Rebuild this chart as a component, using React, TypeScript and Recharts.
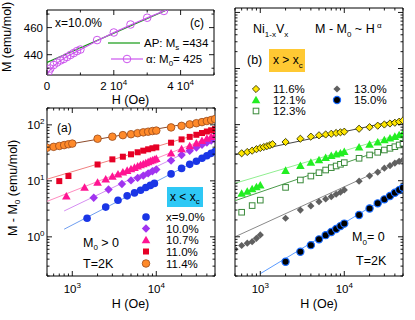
import React from "react";
import { ScatterChart, Scatter, XAxis, YAxis } from "recharts";

const FONT = "'Liberation Sans', Arial, Helvetica, sans-serif";

// ---------- panel (c): M(H), x = 10.0 %
const cH = [500, 1000, 2000, 3000, 4000, 5000, 6000, 7000, 8000, 9000, 10000, 15000, 20000, 25000, 30000, 35000];
const cM = [427.6, 429.8, 432.4, 434.2, 435.7, 436.8, 438.3, 439.8, 441.2, 442.7, 443.8, 450.8, 456.4, 462.3, 467.3, 472.3];
const cFitH = [0, 250, 500, 1000, 2000, 4000, 6000, 8000, 10000, 15000, 20000, 25000, 30000, 35000, 40000];
const cFitM = [425, 426.2, 427.2, 429.0, 431.7, 435.6, 438.6, 441.2, 443.7, 450.3, 456.3, 461.9, 467.2, 472.3, 477.2];
const cApH = [0, 40000];
const cApM = [434.3, 477.5];
const cTicksX = [0, 10000, 20000, 30000, 40000, 50000];
const cTicksY = [430, 440, 450, 460, 470];

// ---------- panel (a): M - M0, M0 > 0
const a90H = [1500, 2500, 3500, 4500, 5500, 6500, 7500, 8500, 9500, 15000, 20000, 25000, 30000, 35000, 40000, 45000, 50000];
const a90M = [2.15, 3.4, 4.5, 5.4, 6.1, 6.8, 7.6, 8.3, 9.0, 13.3, 16.7, 19.7, 22.4, 25.3, 28, 31, 33.5];
const a90FitH = [800, 50000];
const a90FitM = [1.37, 34];

const a100H = [1800, 2700, 3900, 5000, 6000, 7000, 8000, 9000, 10000, 15000, 20000, 25000, 30000, 35000, 40000, 45000, 50000];
const a100M = [5.0, 7.0, 8.8, 10.2, 11.3, 12.4, 13.6, 14.8, 16.0, 23, 29, 34.5, 39.5, 44, 48.5, 52.5, 56];
const a100FitH = [800, 50000];
const a100FitM = [2.9, 57];

const a107H = [850, 1400, 2000, 2500, 3000, 3500, 4000, 4500, 5000, 5500, 6000, 6500, 7000, 7500, 8000, 8500, 9000, 9500, 10000, 15000, 20000, 25000, 30000, 35000, 40000, 45000, 50000];
const a107M = [5.3, 7.6, 9.3, 10.7, 11.9, 13.1, 14.2, 15.2, 16.3, 17.2, 18.2, 19.1, 20.0, 20.8, 21.7, 22.5, 23.3, 24.0, 24.8, 31, 37, 42, 47, 52, 57, 61, 65];
const a107FitH = [500, 50000];
const a107FitM = [4.3, 65];

const a110H = [700, 900, 2000, 3000, 4000, 5000, 6000, 7000, 8000, 9000, 10000, 15000, 20000, 25000, 30000, 35000, 40000, 45000, 50000];
const a110M = [9.9, 12.2, 19.6, 24.2, 27.0, 29.8, 32.4, 34.6, 36.6, 38.2, 39.6, 48, 55, 61, 66.5, 71.5, 76, 80, 84];
const a110FitH = [500, 50000];
const a110FitM = [10.7, 84];

const a114H = [500, 600, 700, 800, 900, 1000, 2000, 3000, 4000, 5000, 6000, 7000, 8000, 9000, 10000, 15000, 20000, 25000, 30000, 35000, 40000, 45000, 50000];
const a114M = [39, 40.5, 42, 43.5, 45, 46.3, 56.5, 61.5, 65.5, 68, 71, 73.5, 75.5, 77.5, 79, 90, 96, 102, 107, 112, 117, 122, 127];
const a114FitH = [500, 50000];
const a114FitM = [38.5, 128];

const aLabels = ["x=9.0%", "10.0%", "10.7%", "11.0%", "11.4%"];

// ---------- panel (b): M - M0, M0 = 0
const b116H = [600, 700, 800, 900, 1000, 1100, 1200, 1300, 1400, 2000, 3000, 4000, 5000, 6000, 7000, 8000, 9000, 10000, 15000, 20000, 25000, 30000, 35000, 40000, 45000, 50000];
const b116M = [30.8, 32.5, 34.3, 36.5, 38.3, 39.9, 41.3, 43, 44.8, 49, 56, 61, 64.5, 66.7, 68.7, 71, 73, 74.8, 84.4, 90, 95.7, 100.5, 104.7, 108, 112.7, 118.6];
const b116FitH = [500, 50000];
const b116FitM = [29, 125];

const b121H = [600, 700, 800, 900, 1000, 2000, 3000, 4000, 5000, 6000, 7000, 8000, 9000, 10000, 15000, 20000, 25000, 30000, 35000, 40000, 45000, 50000];
const b121M = [5.9, 6.4, 7.1, 7.7, 8.3, 15.1, 18.5, 21, 23.4, 25.7, 27.9, 29.6, 30.8, 32.9, 39.5, 44, 48.5, 53, 57, 61, 65, 69];
const b121FitH = [500, 50000];
const b121FitM = [9.0, 70];

const b123H = [600, 800, 1000, 2000, 3000, 4000, 5000, 6000, 7000, 8000, 9000, 10000, 15000, 20000, 25000, 30000, 35000, 40000, 45000, 50000];
const b123M = [2.74, 3.6, 4.5, 7.6, 10.3, 12.1, 13.9, 15.5, 17.1, 18.3, 19.6, 21, 25.1, 28.8, 32.1, 35.3, 37.8, 40.4, 43.4, 46.5];
const b123FitH = [500, 50000];
const b123FitM = [4.4, 47];

const b130H = [500, 600, 700, 800, 900, 1000, 2000, 3000, 4000, 5000, 6000, 7000, 8000, 9000, 10000, 15000, 20000, 25000, 30000, 35000, 40000, 45000, 50000];
const b130M = [0.6, 0.7, 0.77, 0.82, 0.94, 1.08, 2.14, 3.0, 3.55, 4.23, 4.72, 5.19, 5.73, 6.22, 6.84, 9.8, 12.2, 14.2, 16.7, 18.5, 20.5, 22.2, 23.4];
const b130FitH = [500, 50000];
const b130FitM = [1.0, 23.5];

const b150H = [2000, 3000, 4000, 5000, 6000, 7000, 8000, 9000, 10000, 15000, 20000, 25000, 30000, 35000, 40000, 45000, 50000];
const b150M = [0.36, 0.54, 0.71, 0.9, 1.07, 1.22, 1.38, 1.55, 1.72, 2.45, 3.2, 3.95, 4.65, 5.35, 6.1, 6.8, 7.5];
const b150FitH = [1000, 50000];
const b150FitM = [0.22, 7.6];

const bLabels = ["11.6%", "12.1%", "12.3%", "13.0%", "15.0%"];

// ---------- log axis ticks
const logTicksX = [500, 600, 700, 800, 900, 1000, 2000, 3000, 4000, 5000, 6000, 7000, 8000, 9000, 10000, 20000, 30000, 40000, 50000];
const aTicksY = [0.2, 0.3, 0.4, 0.5, 0.6, 0.7, 0.8, 0.9, 1, 2, 3, 4, 5, 6, 7, 8, 9, 10, 20, 30, 40, 50, 60, 70, 80, 90, 100, 200];
const bTicksY = [0.2, 0.3, 0.4, 0.5, 0.6, 0.7, 0.8, 0.9, 1, 2, 3, 4, 5, 6, 7, 8, 9, 10, 20, 30, 40, 50, 60, 70, 80, 90, 100, 200, 300, 400, 500, 600, 700, 800, 900, 1000, 2000, 3000, 4000, 5000, 6000, 7000, 8000, 9000, 10000];

type Mark = (cx: number, cy: number) => React.ReactElement;

const dot = (r: number, fill: string, stroke = "none", sw = 1): Mark => (cx, cy) => (
  <circle cx={cx} cy={cy} r={r} fill={fill} stroke={stroke} strokeWidth={sw} />
);
const diamond = (s: number, fill: string, stroke = "none", sw = 1): Mark => (cx, cy) => (
  <polygon points={`${cx},${cy - s} ${cx + s},${cy} ${cx},${cy + s} ${cx - s},${cy}`} fill={fill} stroke={stroke} strokeWidth={sw} />
);
const triangle = (s: number, fill: string): Mark => (cx, cy) => (
  <polygon points={`${cx},${cy - s} ${cx + s},${cy + s * 0.75} ${cx - s},${cy + s * 0.75}`} fill={fill} />
);
const square = (s: number, fill: string, stroke = "none", sw = 1): Mark => (cx, cy) => (
  <rect x={cx - s} y={cy - s} width={2 * s} height={2 * s} fill={fill} stroke={stroke} strokeWidth={sw} />
);

type Series = { h: number[]; m: number[]; mark?: Mark; line?: string; lw?: number };

const pts = (h: number[], m: number[]) => h.map((v, i) => ({ h: v, m: m[i] }));
const isPow10 = (v: number) => Math.abs(Math.log10(v) - Math.round(Math.log10(v))) < 1e-6;
const pow10Label = (v: number) => (
  <>
    <tspan>10</tspan>
    <tspan dy={-5} fontSize={8}>{Math.round(Math.log10(v))}</tspan>
  </>
);

type Side = "bottom" | "top" | "left" | "right";

function tickRenderer(side: Side, isMajor: (v: number) => boolean, label?: (v: number) => React.ReactNode, gap = 16) {
  return (p: any) => {
    const v = p.payload.value as number;
    const maj = isMajor(v);
    const len = maj ? 5 : 2.5;
    const x = Number(p.x);
    const y = Number(p.y);
    const dx = side === "left" ? len : side === "right" ? -len : 0;
    const dy = side === "bottom" ? -len : side === "top" ? len : 0;
    return (
      <g>
        <line x1={x} y1={y} x2={x + dx} y2={y + dy} stroke="#000" strokeWidth={0.9} />
        {maj && label && side === "bottom" && (
          <text x={x} y={y + gap} textAnchor="middle" fontSize={11.5} fontFamily={FONT} fill="#000">
            {label(v)}
          </text>
        )}
        {maj && label && side === "left" && (
          <text x={x - gap} y={y + 4} textAnchor="end" fontSize={11.5} fontFamily={FONT} fill="#000">
            {label(v)}
          </text>
        )}
      </g>
    );
  };
}

type PanelProps = {
  left: number;
  top: number;
  width: number;
  height: number;
  // plot box inside the chart
  box: { top: number; right: number; bottom: number; left: number };
  log: boolean;
  xDomain: [number, number];
  yDomain: [number, number];
  xTicks: number[];
  yTicks: number[];
  xMajor: (v: number) => boolean;
  yMajor: (v: number) => boolean;
  xLabel?: (v: number) => React.ReactNode;
  yLabel?: (v: number) => React.ReactNode;
  xGap: number;
  yGap: number;
  series: Series[];
};

function Panel(p: PanelProps) {
  const scale = p.log ? "log" : "linear";
  // axes are 1px thick, so margins are one pixel smaller than the box offsets
  const margin = {
    top: p.box.top - 1,
    right: p.width - p.box.right - 1,
    bottom: p.height - p.box.bottom - 1,
    left: p.box.left - 1,
  };
  return (
    <div style={{ position: "absolute", left: p.left, top: p.top }}>
      <ScatterChart width={p.width} height={p.height} margin={margin}>
        <XAxis xAxisId="b" dataKey="h" type="number" scale={scale} domain={p.xDomain} allowDataOverflow
          ticks={p.xTicks} interval={0} height={1} tickSize={0} tickMargin={0} tickLine={false}
          stroke="#000" tick={tickRenderer("bottom", p.xMajor, p.xLabel, p.xGap)} />
        <XAxis xAxisId="t" dataKey="h" type="number" scale={scale} domain={p.xDomain} allowDataOverflow
          orientation="top" ticks={p.xTicks} interval={0} height={1} tickSize={0} tickMargin={0} tickLine={false}
          stroke="#000" tick={tickRenderer("top", p.xMajor)} />
        <YAxis yAxisId="l" dataKey="m" type="number" scale={scale} domain={p.yDomain} allowDataOverflow
          ticks={p.yTicks} interval={0} width={1} tickSize={0} tickMargin={0} tickLine={false}
          stroke="#000" tick={tickRenderer("left", p.yMajor, p.yLabel, p.yGap)} />
        <YAxis yAxisId="r" dataKey="m" type="number" scale={scale} domain={p.yDomain} allowDataOverflow
          orientation="right" ticks={p.yTicks} interval={0} width={1} tickSize={0} tickMargin={0} tickLine={false}
          stroke="#000" tick={tickRenderer("right", p.yMajor)} />
        {p.series.map((s, i) => (
          <Scatter
            key={i}
            data={pts(s.h, s.m)}
            xAxisId="b"
            yAxisId="l"
            isAnimationActive={false}
            line={s.line ? { stroke: s.line, strokeWidth: s.lw ?? 1 } : false}
            shape={(q: any) => (s.mark ? s.mark(q.cx, q.cy) : <g />)}
          />
        ))}
      </ScatterChart>
    </div>
  );
}

// markers
const cCircle = dot(3.8, "none", "#cc55ee", 1);
const aMarks: Mark[] = [
  dot(3.8, "#1a35e6"),
  diamond(4.2, "#a033f0"),
  triangle(4.3, "#ff1493"),
  square(3, "#e60026"),
  dot(3.8, "#ff8a2a", "#9a4a1a", 0.8),
];
const bMarks: Mark[] = [
  diamond(3.6, "#ffe600", "#333300", 0.9),
  triangle(4.3, "#22ee22"),
  square(2.8, "#ffffff", "#3a8a3a", 1),
  diamond(3.6, "#606060"),
  dot(3.6, "#000000", "#1a6cff", 1.2),
];

export default function App() {
  const cSeries: Series[] = [
    { h: cApH, m: cApM, line: "#129912", lw: 1.2 },
    { h: cFitH, m: cFitM, line: "#cc55ee", lw: 1.2 },
    { h: cH, m: cM, mark: cCircle },
  ];
  const aSeries: Series[] = [
    { h: a90FitH, m: a90FitM, line: "#6f9ef0" },
    { h: a100FitH, m: a100FitM, line: "#d58ef2" },
    { h: a107FitH, m: a107FitM, line: "#ff8cc0" },
    { h: a110FitH, m: a110FitM, line: "#f08080" },
    { h: a114FitH, m: a114FitM, line: "#8c4a2a" },
    { h: a90H, m: a90M, mark: aMarks[0] },
    { h: a100H, m: a100M, mark: aMarks[1] },
    { h: a107H, m: a107M, mark: aMarks[2] },
    { h: a110H, m: a110M, mark: aMarks[3] },
    { h: a114H, m: a114M, mark: aMarks[4] },
  ];
  const bSeries: Series[] = [
    { h: b116FitH, m: b116FitM, line: "#444444" },
    { h: b121FitH, m: b121FitM, line: "#90ee90" },
    { h: b123FitH, m: b123FitM, line: "#4a9a4a" },
    { h: b130FitH, m: b130FitM, line: "#8a8a8a" },
    { h: b150FitH, m: b150FitM, line: "#5b9bff" },
    { h: b116H, m: b116M, mark: bMarks[0] },
    { h: b121H, m: b121M, mark: bMarks[1] },
    { h: b123H, m: b123M, mark: bMarks[2] },
    { h: b130H, m: b130M, mark: bMarks[3] },
    { h: b150H, m: b150M, mark: bMarks[4] },
  ];

  const aRowY = [217, 228.5, 240, 251.5, 263.5];
  const bLegend = [
    { x: 256, y: 89 },
    { x: 256, y: 100 },
    { x: 256, y: 111 },
    { x: 337, y: 89 },
    { x: 337, y: 100 },
  ];

  return (
    <div style={{ position: "absolute", left: 0, top: 0, width: 415, height: 320, background: "#fff", fontFamily: FONT }}>
      <Panel
        left={0} top={0} width={222} height={108}
        box={{ top: 10, right: 214, bottom: 75, left: 47 }}
        log={false}
        xDomain={[0, 50000]} yDomain={[425, 473]}
        xTicks={cTicksX} yTicks={cTicksY}
        xMajor={(v) => v % 20000 === 0} yMajor={(v) => v === 440 || v === 460}
        xLabel={(v) =>
          v === 0 ? "0" : (
            <>
              <tspan>{v / 10000} 10</tspan>
              <tspan dy={-5} fontSize={8}>4</tspan>
            </>
          )
        }
        yLabel={(v) => String(v)}
        xGap={14.5} yGap={4}
        series={cSeries}
      />
      <Panel
        left={0} top={100} width={222} height={220}
        box={{ top: 8, right: 215, bottom: 176, left: 47 }}
        log
        xDomain={[500, 50000]} yDomain={[0.2, 200]}
        xTicks={logTicksX} yTicks={aTicksY}
        xMajor={isPow10} yMajor={isPow10}
        xLabel={pow10Label} yLabel={pow10Label}
        xGap={17} yGap={2.5}
        series={aSeries}
      />
      <Panel
        left={222} top={0} width={193} height={320}
        box={{ top: 8, right: 181, bottom: 276, left: 13 }}
        log
        xDomain={[500, 50000]} yDomain={[0.2, 12000]}
        xTicks={logTicksX} yTicks={bTicksY}
        xMajor={isPow10} yMajor={isPow10}
        xLabel={pow10Label}
        xGap={17} yGap={2.5}
        series={bSeries}
      />

      <svg width={415} height={320} style={{ position: "absolute", left: 0, top: 0, pointerEvents: "none" }}
        fontFamily={FONT} fill="#000">
        {/* panel (c) */}
        <text transform="translate(11,37) rotate(-90)" textAnchor="middle" fontSize={12.5}>M (emu/mol)</text>
        <text x={130.5} y={104} textAnchor="middle" fontSize={12.5}>H (Oe)</text>
        <text x={55} y={27} fontSize={12}>x=10.0%</text>
        <text x={204} y={27} textAnchor="end" fontSize={12}>(c)</text>
        <line x1={108} y1={43} x2={140} y2={43} stroke="#129912" strokeWidth={1.2} />
        <text x={144} y={47} fontSize={11.5}>
          AP: M<tspan dy={3} fontSize={8}>s</tspan><tspan dy={-3}> =434</tspan>
        </text>
        <line x1={111} y1={59} x2={143} y2={59} stroke="#cc55ee" strokeWidth={1.2} />
        {cCircle(127, 59)}
        <text x={146} y={63} fontSize={11.5}>
          α: M<tspan dy={3} fontSize={8}>0</tspan><tspan dy={-3}>= 425</tspan>
        </text>

        {/* panel (a) */}
        <text transform="translate(17,188) rotate(-90)" textAnchor="middle" fontSize={12.5}>
          M - M<tspan dy={3} fontSize={8}>0</tspan><tspan dy={-3}> (emu/mol)</tspan>
        </text>
        <text x={130.5} y={308} textAnchor="middle" fontSize={12.5}>H (Oe)</text>
        <text x={57} y={132} fontSize={12}>(a)</text>
        <rect x={167} y={187} width={36} height={20} fill="#2ec8f5" />
        <text x={170} y={201} fontSize={12}>
          x &lt; x<tspan dy={3} fontSize={8}>c</tspan>
        </text>
        {aLabels.map((t, i) => (
          <g key={t}>
            {aMarks[i](146, aRowY[i])}
            <text x={166} y={aRowY[i] + 4} fontSize={11.5}>{t}</text>
          </g>
        ))}
        <text x={83} y={247} fontSize={12.5}>
          M<tspan dy={3} fontSize={8}>0</tspan><tspan dy={-3}> &gt; 0</tspan>
        </text>
        <text x={83} y={268} fontSize={12.5}>T=2K</text>

        {/* panel (b) */}
        <text x={253} y={33} fontSize={12.5}>
          Ni<tspan dy={4} fontSize={8}>1-x</tspan><tspan dy={-4}>V</tspan><tspan dy={4} fontSize={8}>x</tspan>
        </text>
        <text x={315} y={33} fontSize={12.5}>
          M - M<tspan dy={4} fontSize={8}>0</tspan><tspan dy={-4}> ~ H</tspan><tspan dy={-5} fontSize={8}> α</tspan>
        </text>
        <text x={247} y={64} fontSize={12.5}>(b)</text>
        <rect x={269} y={49} width={36} height={23} fill="#ffc933" />
        <text x={273} y={64} fontSize={12}>
          x &gt; x<tspan dy={4} fontSize={8}>c</tspan>
        </text>
        {bLabels.map((t, i) => (
          <g key={t}>
            {bMarks[i](bLegend[i].x, bLegend[i].y)}
            <text x={bLegend[i].x + 17} y={bLegend[i].y + 4} fontSize={11.5}>{t}</text>
          </g>
        ))}
        <text x={352} y={241} fontSize={12.5}>
          M<tspan dy={4} fontSize={8}>0</tspan><tspan dy={-4}>= 0</tspan>
        </text>
        <text x={356} y={265} fontSize={12.5}>T=2K</text>
        <text x={319} y={308} textAnchor="middle" fontSize={12.5}>H (Oe)</text>
      </svg>
    </div>
  );
}
